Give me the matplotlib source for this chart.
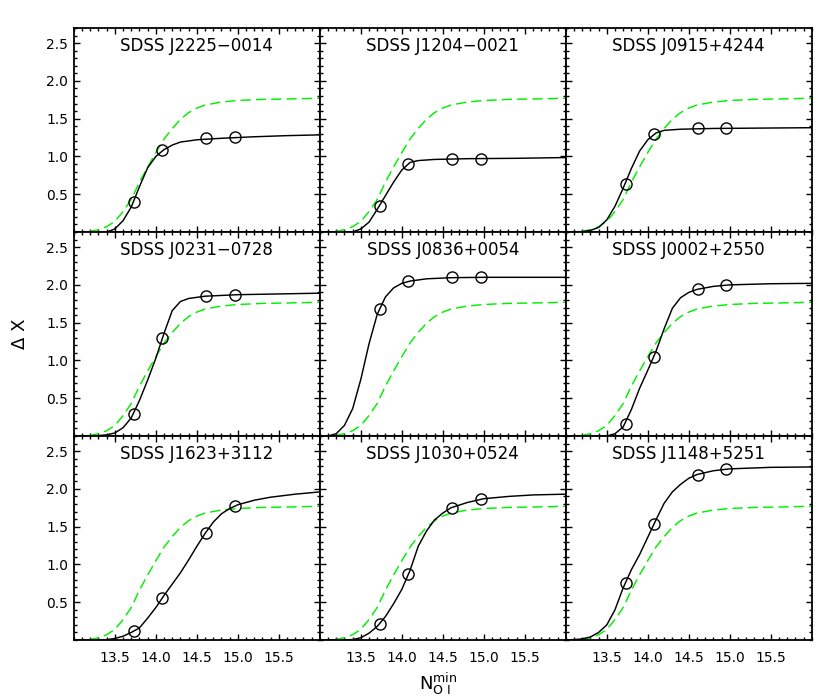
"""
Nine-panel grid of cumulative Delta X versus minimum O I column density.
"""

import matplotlib

matplotlib.use("Agg")
import matplotlib.pyplot as plt
from matplotlib.ticker import MultipleLocator

plt.rcParams["font.family"] = ["DejaVu Sans"]

# quasar names, row by row
QSO_NAMES = [
    "SDSS J2225\u22120014", "SDSS J1204\u22120021", "SDSS J0915+4244",
    "SDSS J0231\u22120728", "SDSS J0836+0054", "SDSS J0002+2550",
    "SDSS J1623+3112", "SDSS J1030+0524", "SDSS J1148+5251",
]

# column density of the measured points (circles)
POINT_N = [13.73, 14.08, 14.61, 14.96]

POINT_DX = [
    [0.40, 1.09, 1.24, 1.26],
    [0.34, 0.90, 0.965, 0.965],
    [0.64, 1.30, 1.37, 1.37],
    [0.29, 1.30, 1.85, 1.87],
    [1.68, 2.05, 2.10, 2.10],
    [0.16, 1.05, 1.94, 2.00],
    [0.12, 0.56, 1.42, 1.77],
    [0.21, 0.87, 1.75, 1.87],
    [0.76, 1.53, 2.19, 2.26],
]

# black model curves, one (N, Delta X) list per panel
CURVE_N = [
    [13.0, 13.4, 13.5, 13.6, 13.7, 13.8, 13.9, 14.0, 14.1, 14.2, 14.3, 14.5, 14.8, 15.2, 15.6, 16.0],
    [13.0, 13.4, 13.5, 13.6, 13.7, 13.8, 13.9, 14.0, 14.1, 14.2, 14.4, 14.8, 15.4, 16.0],
    [13.0, 13.2, 13.3, 13.4, 13.5, 13.6, 13.7, 13.8, 13.9, 14.0, 14.1, 14.2, 14.4, 14.8, 15.4, 16.0],
    [13.0, 13.3, 13.4, 13.5, 13.6, 13.7, 13.8, 13.9, 14.0, 14.1, 14.2, 14.3, 14.4, 14.6, 15.0, 15.5, 16.0],
    [13.0, 13.1, 13.2, 13.3, 13.4, 13.5, 13.6, 13.7, 13.8, 13.9, 14.0, 14.1, 14.3, 14.6, 15.0, 16.0],
    [13.0, 13.5, 13.6, 13.7, 13.8, 13.9, 14.0, 14.1, 14.2, 14.3, 14.4, 14.5, 14.6, 14.8, 15.0, 15.5, 16.0],
    [13.0, 13.4, 13.5, 13.6, 13.7, 13.8, 13.9, 14.0, 14.1, 14.2, 14.3, 14.4, 14.5, 14.6, 14.7, 14.8,
     14.9, 15.0, 15.2, 15.4, 15.7, 16.0],
    [13.0, 13.4, 13.5, 13.6, 13.7, 13.8, 13.9, 14.0, 14.1, 14.2, 14.3, 14.4, 14.5, 14.6, 14.8, 15.0,
     15.3, 15.6, 16.0],
    [13.0, 13.1, 13.2, 13.3, 13.4, 13.5, 13.6, 13.7, 13.8, 13.9, 14.0, 14.1, 14.2, 14.3, 14.4, 14.5,
     14.6, 14.8, 15.0, 15.5, 16.0],
]

CURVE_DX = [
    [0.0, 0.0, 0.04, 0.15, 0.33, 0.60, 0.85, 1.00, 1.09, 1.15, 1.19, 1.22, 1.24, 1.26, 1.275, 1.285],
    [0.0, 0.0, 0.04, 0.13, 0.30, 0.48, 0.66, 0.82, 0.92, 0.945, 0.96, 0.97, 0.975, 0.985],
    [0.0, 0.005, 0.02, 0.06, 0.16, 0.34, 0.58, 0.84, 1.07, 1.22, 1.31, 1.345, 1.36, 1.37, 1.375, 1.38],
    [0.0, 0.005, 0.015, 0.04, 0.11, 0.24, 0.47, 0.74, 1.03, 1.36, 1.66, 1.78, 1.82, 1.85, 1.87, 1.88,
     1.89],
    [0.0, 0.0, 0.03, 0.14, 0.36, 0.75, 1.22, 1.61, 1.84, 1.96, 2.02, 2.05, 2.08, 2.095, 2.10, 2.10],
    [0.0, 0.0, 0.03, 0.12, 0.35, 0.63, 0.87, 1.12, 1.42, 1.69, 1.83, 1.90, 1.94, 1.98, 2.00, 2.015,
     2.02],
    [0.0, 0.005, 0.02, 0.05, 0.10, 0.16, 0.29, 0.43, 0.59, 0.74, 0.89, 1.06, 1.24, 1.41, 1.56, 1.67,
     1.74, 1.79, 1.85, 1.89, 1.93, 1.96],
    [0.0, 0.005, 0.03, 0.09, 0.18, 0.31, 0.48, 0.67, 0.92, 1.24, 1.44, 1.59, 1.68, 1.75, 1.82, 1.87,
     1.90, 1.92, 1.93],
    [0.0, 0.005, 0.015, 0.04, 0.10, 0.20, 0.40, 0.69, 0.93, 1.13, 1.36, 1.59, 1.81, 1.96, 2.06, 2.14,
     2.19, 2.24, 2.265, 2.285, 2.29],
]

# green dashed reference curve, the same in every panel
REF_N = [13.0, 13.2, 13.3, 13.4, 13.5, 13.6, 13.7, 13.8, 13.9, 14.0, 14.1, 14.2, 14.3, 14.4, 14.5,
         14.6, 14.8, 15.0, 15.3, 15.6, 16.0]
REF_DX = [0.0, 0.01, 0.03, 0.07, 0.14, 0.27, 0.43, 0.66, 0.86, 1.05, 1.23, 1.37, 1.49, 1.58, 1.64,
          1.68, 1.72, 1.74, 1.755, 1.76, 1.77]

X_TICKS = [13.5, 14.0, 14.5, 15.0, 15.5]
Y_TICKS = [0.5, 1.0, 1.5, 2.0, 2.5]


def main() -> None:
    fig, axes = plt.subplots(3, 3, figsize=(8.30, 6.99), dpi=100, sharex=True, sharey=True)
    fig.subplots_adjust(left=0.089, right=0.978, top=0.960, bottom=0.0844, wspace=0, hspace=0)

    for idx, ax in enumerate(axes.flat):
        ax.plot(REF_N, REF_DX, color="#00f000", lw=1.05, dashes=(7, 3.5))
        ax.plot(CURVE_N[idx], CURVE_DX[idx], color="black", lw=1.05)
        ax.plot(POINT_N, POINT_DX[idx], ls="none", marker="o", ms=8, mfc="none",
                mec="black", mew=1.0)
        ax.text(0.5, 0.887, QSO_NAMES[idx], transform=ax.transAxes, ha="center",
                va="baseline", fontsize=12)

        ax.set_xlim(13.0, 16.0)
        ax.set_ylim(0.0, 2.7)
        ax.set_xticks(X_TICKS)
        ax.set_yticks(Y_TICKS)
        ax.xaxis.set_minor_locator(MultipleLocator(0.1))
        ax.yaxis.set_minor_locator(MultipleLocator(0.1))
        ax.tick_params(which="both", direction="in", top=True, right=True, width=1.0)
        ax.tick_params(which="major", length=4.5)
        ax.tick_params(which="minor", length=2.3)
        ax.tick_params(axis="x", labelsize=10, pad=8)
        ax.tick_params(axis="y", labelsize=10, pad=4)
        for spine in ax.spines.values():
            spine.set_linewidth(1.3)

    fig.text(0.024, 0.522, "\u0394 X", rotation=90, ha="center", va="center", fontsize=13)
    fig.text(0.528, 0.013, r"$\mathregular{N_{O\ I}^{min}}$", ha="center", va="baseline",
             fontsize=13)

    fig.savefig("out.png", dpi=100)
    plt.close(fig)


if __name__ == "__main__":
    main()
